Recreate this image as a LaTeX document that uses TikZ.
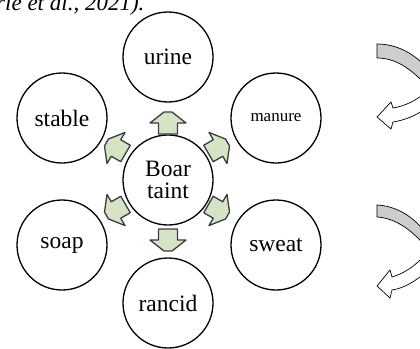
\documentclass[tikz,border=0pt]{standalone}
\usepackage{fontspec}
\setmainfont{Liberation Serif}
\definecolor{gfill}{RGB}{214,228,198}
\definecolor{gline}{RGB}{60,60,60}
\definecolor{cgrey}{RGB}{205,205,205}
\tikzset{
  bubble/.style={circle, draw=black, line width=1.3pt, fill=white, minimum size=90pt, inner sep=0pt, align=center, font=\fontsize{23.5}{22}\selectfont},
  smallbubble/.style={bubble, font=\fontsize{17}{17}\selectfont},
  greenarrow/.style={draw=gline, line width=1.3pt, fill=gfill, line join=round},
  curvedarrow/.style={draw=black, line width=0.7pt, line join=miter}
}
\begin{document}
\begin{tikzpicture}[x=1pt, y=-1pt]
\useasboundingbox (0,0) rectangle (420,348);
\clip (0,0) rectangle (420,348);
% partial caption line at the top
\node[anchor=base west, inner sep=0pt, font=\fontsize{23}{23}\selectfont\itshape] (cap) at (-4,10) {rie et al., 2021).};
% circles
\node[bubble] (boar) at (168,180) {Boar\\taint};
\node[bubble] (urine) at (168,57) {urine};
\node[smallbubble] (manure) at (276,118) {manure};
\node[bubble] (sweat) at (276,245) {sweat};
\node[bubble] (rancid) at (168,303) {rancid};
\node[bubble] (soap) at (62,245) {soap};
\node[bubble] (stable) at (62,118) {stable};
% green block arrows pointing outward
\foreach \ang/\px/\py in {90/168/123, 30/218/148, -30/218/210, -90/168/240, 210/116/210, 150/116/148}{
  \draw[greenarrow, shift={(\px,\py)}, rotate=\ang]
    (-11,-9.5) -- (0,-9.5) -- (0,-18) -- (11,-4) -- (11,4) -- (0,18) -- (0,9.5) -- (-11,9.5) -- cycle;
}
% right curved arrows (cut at the edge)
\draw[curvedarrow, fill=cgrey] (377,44) .. controls (395,44) and (412,52) .. (425,66)
  -- (425,84) .. controls (410,68) and (395,58) .. (377,58) -- cycle;
\draw[curvedarrow, fill=white] (425,93) .. controls (415,101) and (405,106) .. (393,108)
  -- (391,102) -- (377,117) -- (391,129) -- (393,122)
  .. controls (405,120) and (415,116) .. (425,109) -- cycle;
\draw[curvedarrow, fill=cgrey] (377,205) .. controls (395,206) and (412,215) .. (425,232)
  -- (425,246) .. controls (412,230) and (395,218) .. (377,217) -- cycle;
\draw[curvedarrow, fill=white] (425,255) .. controls (415,266) and (405,273) .. (392,277)
  -- (390,270) -- (377,286) -- (390,298) -- (392,290)
  .. controls (405,288) and (415,281) .. (425,273) -- cycle;
\end{tikzpicture}
\end{document}
